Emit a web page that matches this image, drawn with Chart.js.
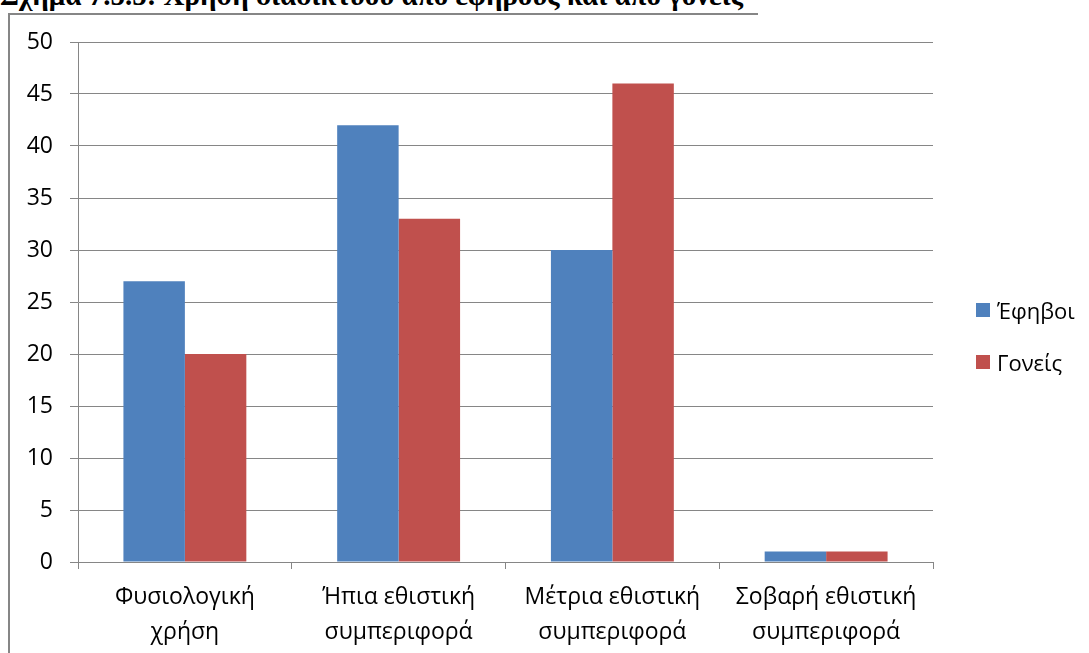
<!DOCTYPE html>
<html>
<head>
<meta charset="utf-8">
<script src="https://cdn.jsdelivr.net/npm/chart.js@4.4.0/dist/chart.umd.min.js"></script>
<style>
    html, body { margin: 0; padding: 0; background: #fff; }
    body { width: 1089px; height: 653px; position: relative; overflow: hidden; }
    .title {
        position: absolute; left: 0; top: -21px; white-space: nowrap;
        font: bold 29px "Liberation Serif", "Times New Roman", serif; color: #000;
    }
    .frame-top { position: absolute; left: 8px; top: 13px; width: 750px; height: 0; border-top: 2px solid #868686; }
    .frame-left { position: absolute; left: 8px; top: 13px; width: 0; height: 660px; border-left: 2px solid #868686; }
    #chartBox { position: absolute; left: 0; top: 0; width: 1089px; height: 653px; }
    #legend { position: absolute; left: 976px; top: 299px; margin: 0; padding: 0; list-style: none;
        font: 22px "Open Sans", sans-serif; color: #000; }
    #legend li { display: flex; align-items: center; height: 22px; margin-bottom: 30px; }
    #legend span { display: inline-block; width: 14px; height: 14px; margin-right: 7px; }
</style>
</head>
<body>
<div class="title">Σχήμα 7.5.5: Χρήση διαδικτύου από εφήβους και από γονείς</div>
<div class="frame-top"></div>
<div class="frame-left"></div>
<div id="chartBox"><canvas id="usageChart"></canvas></div>
<ul id="legend"></ul>
<script>
// Categories and values
const categories = [
    ['Φυσιολογική', 'χρήση'],
    ['Ήπια εθιστική', 'συμπεριφορά'],
    ['Μέτρια εθιστική', 'συμπεριφορά'],
    ['Σοβαρή εθιστική', 'συμπεριφορά']
];
const teens = [27, 42, 30, 1];
const parents = [20, 33, 46, 1];
const seriesNames = ['Έφηβοι', 'Γονείς'];
const seriesColors = ['#4F81BD', '#C0504D'];
const yTicks = [0, 5, 10, 15, 20, 25, 30, 35, 40, 45, 50];

const gridColor = '#868686';
const labelFont = { family: '"Open Sans", sans-serif', size: 23 };

const chart = new Chart(document.getElementById('usageChart'), {
    type: 'bar',
    data: {
        labels: categories,
        datasets: [
            { label: seriesNames[0], data: teens, backgroundColor: seriesColors[0] },
            { label: seriesNames[1], data: parents, backgroundColor: seriesColors[1] }
        ]
    },
    options: {
        responsive: true,
        maintainAspectRatio: false,
        animation: false,
        layout: { padding: { top: 42, right: 156, bottom: 0, left: 0 } },
        datasets: { bar: { categoryPercentage: 0.575, barPercentage: 1 } },
        plugins: {
            legend: { display: false },
            tooltip: { enabled: false }
        },
        scales: {
            x: {
                grid: { drawOnChartArea: false, color: gridColor, tickLength: 7 },
                border: { color: gridColor },
                ticks: {
                    color: '#000',
                    font: Object.assign({ lineHeight: '35px' }, labelFont),
                    maxRotation: 0,
                    autoSkip: false,
                    padding: 11
                },
                afterFit: function(scale) { scale.height = 91; }
            },
            y: {
                min: 0,
                max: 50,
                afterBuildTicks: function(scale) { scale.ticks = yTicks.map(v => ({ value: v })); },
                grid: { color: gridColor, tickLength: 8 },
                border: { color: gridColor },
                ticks: { color: '#000', font: labelFont, padding: 17 },
                afterFit: function(scale) { scale.width = 78; }
            }
        }
    }
});

// HTML legend built from the datasets
const legendEl = document.getElementById('legend');
chart.data.datasets.forEach(ds => {
    const li = document.createElement('li');
    const sw = document.createElement('span');
    sw.style.background = ds.backgroundColor;
    li.appendChild(sw);
    li.appendChild(document.createTextNode(ds.label));
    legendEl.appendChild(li);
});
</script>
</body>
</html>
